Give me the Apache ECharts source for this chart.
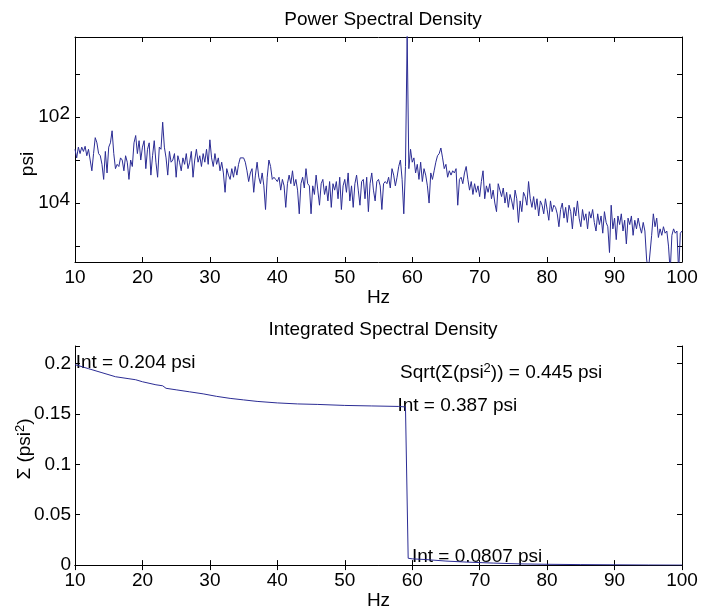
<!DOCTYPE html>
<html><head><meta charset="utf-8">
<script src="https://cdn.jsdelivr.net/npm/echarts@6/dist/echarts.min.js"></script>
<style>html,body{margin:0;padding:0;background:#fff}#c{width:701px;height:611px}</style>
</head><body><div id="c"></div>
<script>
// ---------- data ----------
const psdTitle = 'Power Spectral Density';
const isdTitle = 'Integrated Spectral Density';
const xAxisName = 'Hz';
const psdYName = 'psi';
const isdYName = 'Σ (psi{sup|2})';
const freqStart = 10;      // Hz, first PSD bin
const freqStep = 0.25;     // Hz, PSD bin width
const xTickValues = [10, 20, 30, 40, 50, 60, 70, 80, 90, 100];
const psdTickExp = [-2, -4];          // labelled decades
const psdTickText = ['10{sup|2}', '10{sup|4}'];
const isdTickValues = [0, 0.05, 0.1, 0.15, 0.2];

// PSD values, log10(psi), one row per Hz (4 bins per row)
const psdLog10 = [
  -2.75,-2.95,-2.70,-2.85,
  -2.70,-2.80,-2.68,-2.90,
  -2.75,-3.00,-3.25,-2.85,
  -2.48,-2.60,-2.85,-2.90,
  -3.10,-3.45,-2.80,-3.30,
  -2.70,-2.60,-2.32,-2.85,
  -3.20,-3.10,-3.15,-2.95,
  -3.00,-3.25,-2.90,-3.05,
  -3.45,-3.00,-3.15,-2.60,
  -2.43,-2.85,-2.55,-3.00,
  -2.70,-2.55,-3.20,-2.75,
  -2.60,-3.35,-2.90,-2.55,
  -3.05,-3.40,-2.70,-2.75,
  -2.12,-2.70,-2.95,-3.35,
  -2.80,-3.05,-3.00,-2.85,
  -3.40,-2.90,-3.05,-3.25,
  -2.95,-3.10,-2.85,-3.20,
  -3.05,-2.80,-3.40,-3.00,
  -2.75,-3.05,-2.90,-3.15,
  -2.85,-3.05,-2.75,-3.10,
  -2.53,-2.95,-3.15,-2.85,
  -3.10,-2.95,-3.25,-3.05,
  -3.30,-3.75,-3.20,-3.35,
  -3.45,-3.20,-3.40,-3.15,
  -3.35,-3.10,-2.95,-2.95,
  -2.95,-3.05,-3.25,-3.50,
  -3.30,-3.20,-3.75,-3.35,
  -3.05,-3.40,-3.55,-3.30,
  -3.60,-4.15,-3.40,-3.00,
  -3.15,-3.45,-3.40,-3.45,
  -3.50,-3.40,-3.70,-3.45,
  -3.60,-4.10,-3.55,-3.35,
  -3.55,-3.25,-3.60,-3.45,
  -3.70,-4.25,-3.55,-3.40,
  -3.65,-3.20,-3.55,-3.60,
  -4.25,-3.60,-3.80,-3.35,
  -3.70,-4.05,-3.55,-3.45,
  -3.80,-3.60,-3.95,-3.50,
  -4.10,-3.55,-3.70,-3.50,
  -3.90,-3.40,-4.15,-3.60,
  -3.45,-3.75,-3.30,-3.95,
  -3.60,-4.10,-3.55,-3.35,
  -3.70,-4.05,-3.50,-3.45,
  -3.90,-3.40,-4.20,-3.55,
  -3.30,-3.70,-3.95,-3.50,
  -3.45,-3.60,-4.15,-3.55,
  -3.50,-3.55,-3.40,-3.65,
  -3.20,-3.35,-3.60,-3.40,
  -3.15,-3.00,-3.45,-4.25,
  -3.15,-0.10,-3.20,-2.75,
  -3.05,-2.95,-3.30,-3.10,
  -3.45,-3.05,-3.50,-3.20,
  -3.35,-3.60,-4.00,-3.30,
  -3.45,-3.25,-3.05,-2.90,
  -2.85,-2.72,-2.95,-3.20,
  -3.10,-3.40,-3.25,-3.35,
  -3.25,-3.30,-3.20,-4.05,
  -3.45,-3.40,-3.55,-3.30,
  -3.15,-3.45,-3.70,-3.50,
  -3.80,-3.55,-3.75,-3.60,
  -3.85,-3.50,-3.25,-3.90,
  -3.60,-3.75,-3.55,-3.90,
  -3.70,-4.00,-4.20,-3.55,
  -3.70,-3.85,-3.65,-4.00,
  -3.75,-4.10,-3.80,-3.95,
  -4.15,-3.70,-3.90,-4.45,
  -3.95,-4.20,-3.75,-3.85,
  -4.05,-3.50,-3.90,-4.10,
  -3.85,-4.15,-3.90,-4.30,
  -3.95,-4.05,-4.25,-3.90,
  -4.15,-4.40,-3.95,-4.20,
  -4.05,-4.10,-4.25,-4.55,
  -4.15,-4.00,-4.35,-4.10,
  -4.45,-4.05,-4.20,-4.60,
  -4.10,-4.30,-3.95,-4.35,
  -4.55,-4.15,-4.40,-4.25,
  -4.60,-4.20,-4.35,-4.15,
  -4.45,-4.65,-4.25,-4.50,
  -4.30,-4.70,-4.20,-4.45,
  -4.55,-5.15,-4.05,-4.60,
  -4.35,-4.85,-4.30,-4.50,
  -4.25,-4.65,-4.40,-4.95,
  -4.35,-4.50,-4.30,-4.75,
  -4.40,-4.60,-4.35,-4.55,
  -4.70,-4.45,-4.65,-5.30,
  -5.60,-5.60,-4.75,-4.25,
  -4.55,-4.35,-4.80,-4.60,
  -4.75,-4.55,-4.70,-4.65,
  -5.00,-5.60,-4.75,-4.60,
  -4.70,-4.65,-5.60,-4.70,
  -4.65
];

// Integrated spectral density (psi^2)
const isdFreq  = [10, 12, 14, 16, 18, 19, 20, 22, 23, 23.5, 25, 27, 29, 31, 33, 35, 37, 40, 43, 46, 50, 54, 58, 59, 59.4, 60, 62, 65, 68, 72, 76, 80, 85, 90, 95, 100];
const isdValue = [0.199, 0.195, 0.191, 0.187, 0.185, 0.184, 0.182, 0.179, 0.178, 0.1755, 0.174, 0.172, 0.170, 0.1675, 0.1655, 0.164, 0.1625, 0.161, 0.160, 0.1595, 0.1585, 0.158, 0.1575, 0.157, 0.0068, 0.0062, 0.0055, 0.0040, 0.0030, 0.0020, 0.0012, 0.0008, 0.0005, 0.0003, 0.0001, 0.0];

// annotation texts and their anchor points (Hz, psi^2)
const noteText = ['Int = 0.204 psi', 'Sqrt(Σ(psi{sup|2})) = 0.445 psi', 'Int = 0.387 psi', 'Int = 0.0807 psi'];
const noteFreq = [10.1, 58.2, 57.8, 59.95];
const noteY    = [0.201, 0.1905, 0.158, 0.0078];

// axis ranges
const psdMinExp = -5.37, psdMaxExp = -0.14;
const isdMax = 0.2175;

// ---------- chart ----------
const FONT = '"Liberation Sans", Arial, Helvetica, sans-serif';
const BLUE = '#2b2c94';
const FS = 19;
const psdData = psdLog10.map((e, i) => [freqStart + i * freqStep, Math.pow(10, e)]);
const isdData = isdFreq.map((f, i) => [f, isdValue[i]]);
const noteData = noteFreq.map((f, i) => ({ value: [f, noteY[i]], label: { formatter: noteText[i] } }));

const supRich = { sup: { fontSize: 13, fontFamily: FONT, color: '#000', padding: [0, 0, 9, 0] } };
const tickStyle = { show: true, inside: true, length: 5, lineStyle: { color: '#000', width: 1 } };
const lineStyle = { show: true, lineStyle: { color: '#000', width: 1 } };

function xAx(grid, pos, labels, name, gap) {
  return {
    type: 'value', gridIndex: grid, position: pos, min: 10, max: 100, interval: 10,
    axisLine: lineStyle, axisTick: tickStyle, splitLine: { show: false },
    axisLabel: { show: labels, fontSize: FS, fontFamily: FONT, color: '#000', margin: 6,
      formatter: v => xTickValues.indexOf(v) >= 0 ? String(v) : '' },
    name: name, nameLocation: 'middle', nameGap: gap,
    nameTextStyle: { fontSize: FS, fontFamily: FONT, color: '#000' }
  };
}

const option = {
  animation: false,
  backgroundColor: '#fff',
  title: [
    { text: psdTitle, left: 378, top: 5, textAlign: 'center',
      textStyle: { fontSize: FS, fontWeight: 'normal', fontFamily: FONT, color: '#000' } },
    { text: isdTitle, left: 378, top: 315, textAlign: 'center',
      textStyle: { fontSize: FS, fontWeight: 'normal', fontFamily: FONT, color: '#000' } }
  ],
  grid: [
    { left: 75, top: 37, width: 607, height: 225 },
    { left: 75, top: 346, width: 607, height: 224 }
  ],
  xAxis: [
    xAx(0, 'bottom', true, xAxisName, 10),
    xAx(0, 'top', false, '', 0),
    xAx(1, 'bottom', true, xAxisName, 16),
    xAx(1, 'top', false, '', 0)
  ],
  yAxis: [
    { type: 'log', logBase: 10, gridIndex: 0, position: 'left',
      min: Math.pow(10, psdMinExp), max: Math.pow(10, psdMaxExp),
      axisLine: lineStyle, axisTick: tickStyle, splitLine: { show: false },
      axisLabel: { fontSize: FS, fontFamily: FONT, color: '#000', margin: 5,
        rich: { sup: { fontSize: FS, fontFamily: FONT, color: '#000', padding: [0, 0, 7, 0] } },
        formatter: v => {
          const e = Math.log10(v);
          for (let k = 0; k < psdTickExp.length; k++) {
            if (Math.abs(e - psdTickExp[k]) < 1e-6) return psdTickText[k];
          }
          return '';
        } } },
    { type: 'log', logBase: 10, gridIndex: 0, position: 'right',
      min: Math.pow(10, psdMinExp), max: Math.pow(10, psdMaxExp),
      axisLine: lineStyle, axisTick: tickStyle, splitLine: { show: false }, axisLabel: { show: false } },
    { type: 'value', gridIndex: 1, position: 'left', min: 0, max: isdMax, interval: 0.05,
      axisLine: lineStyle, axisTick: tickStyle, splitLine: { show: false },
      axisLabel: { fontSize: FS, fontFamily: FONT, color: '#000', margin: 4,
        formatter: v => {
          for (let k = 0; k < isdTickValues.length; k++) {
            if (Math.abs(v - isdTickValues[k]) < 1e-9) return String(isdTickValues[k]);
          }
          return '';
        } } },
    { type: 'value', gridIndex: 1, position: 'right', min: 0, max: isdMax, interval: 0.05,
      axisLine: lineStyle, axisTick: tickStyle, splitLine: { show: false }, axisLabel: { show: false } }
  ],
  series: [
    { type: 'line', xAxisIndex: 0, yAxisIndex: 0, data: psdData, showSymbol: false, symbol: 'none',
      lineStyle: { color: BLUE, width: 1 }, clip: true },
    { type: 'line', xAxisIndex: 2, yAxisIndex: 2, data: isdData, showSymbol: false, symbol: 'none',
      lineStyle: { color: BLUE, width: 1 }, clip: true },
    { type: 'scatter', xAxisIndex: 2, yAxisIndex: 2, data: noteData, symbolSize: 0, silent: true,
      itemStyle: { opacity: 1 },
      label: { show: true, position: [0, 0], align: 'left', verticalAlign: 'middle', opacity: 1,
        fontSize: FS, fontFamily: FONT, color: '#000', rich: supRich } }
  ],
  graphic: [
    { type: 'text', x: 28, y: 164, rotation: Math.PI / 2,
      style: { text: psdYName, fontSize: FS, fontFamily: FONT, fill: '#000', align: 'center', verticalAlign: 'middle' } },
    { type: 'text', x: 25, y: 449, rotation: Math.PI / 2,
      style: { text: isdYName, fontSize: FS, fontFamily: FONT, fill: '#000', align: 'center', verticalAlign: 'middle',
        rich: { sup: { fontSize: 13, fontFamily: FONT, fill: '#000', padding: [0, 0, 9, 0] } } } }
  ]
};

const chart = echarts.init(document.getElementById('c'), null, { renderer: 'canvas' });
chart.setOption(option);
</script>
</body></html>
